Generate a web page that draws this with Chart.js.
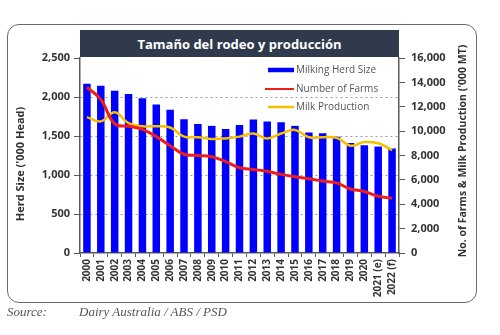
<!DOCTYPE html>
<html>
<head>
<meta charset="utf-8">
<script src="https://cdn.jsdelivr.net/npm/chart.js@4/dist/chart.umd.min.js"></script>
<style>
  html, body { margin: 0; padding: 0; background: #fff; }
  #wrap { position: relative; width: 500px; height: 335px; overflow: hidden; }
  #frame {
    position: absolute; left: 7px; top: 24px; width: 468px; height: 277px;
    border: 1.5px solid #6a6a6a; border-radius: 12px; box-sizing: content-box;
  }
  #title {
    position: absolute; left: 80px; top: 30px; width: 319px; height: 27px;
    background: #2f3b4c; color: #fff; font: 700 13px "Open Sans", sans-serif;
    display: flex; align-items: center; justify-content: center;
  }
  #source {
    position: absolute; left: 7px; top: 304px; font: italic 13px "Liberation Serif", serif;
    color: #555; white-space: pre;
  }
  #source span { position: absolute; left: 72px; top: 0; }
  canvas { position: absolute; left: 0; top: 0; }
</style>
</head>
<body>
<div id="wrap">
  <div id="frame"></div>
  <canvas id="c" width="500" height="335"></canvas>
  <div id="title">Tamaño del rodeo y producción</div>
  <div id="source">Source:<span>Dairy Australia / ABS / PSD</span></div>
</div>
<script>
// Australian dairy: milking herd, farm numbers and milk output by year
const years = ['2000','2001','2002','2003','2004','2005','2006','2007','2008','2009','2010',
  '2011','2012','2013','2014','2015','2016','2017','2018','2019','2020','2021 (e)','2022 (f)'];
const herdSize = [2170, 2145, 2080, 2040, 1985, 1905, 1835, 1715, 1655, 1630, 1590,
  1640, 1710, 1685, 1675, 1630, 1545, 1535, 1490, 1410, 1380, 1365, 1340];
const numFarms = [13600, 12600, 10600, 10400, 10150, 9550, 8800, 8100, 8000, 7900, 7500,
  7000, 6850, 6700, 6450, 6250, 6100, 5900, 5750, 5250, 5050, 4650, 4500];
const milkProd = [11150, 10800, 11550, 10650, 10400, 10400, 10300, 9550, 9500, 9350, 9400,
  9550, 9800, 9400, 9800, 10100, 9500, 9500, 9450, 8800, 9100, 9000, 8450];
const seriesNames = ['Milking Herd Size', 'Number of Farms', 'Milk Production'];
const leftTitle = "Herd Size ('000 Head)";
const rightTitle = "No. of Farms & Milk Production ('000 MT)";

const BLUE = '#0000ff', RED = '#ee1c1c', GOLD = '#f6c000';
const tickFont = { family: 'Open Sans', size: 11, weight: '700' };
const AXIS = '#5a5a5a';

// Legend inside the plot (top-right) and the two axis titles
const overlay = {
  id: 'overlay',
  afterDraw(chart) {
    const { ctx, chartArea: a } = chart;
    ctx.save();
    // legend
    const rows = [
      { label: chart.data.datasets[0].label, color: BLUE, w: 4.5, x0: 268 },
      { label: chart.data.datasets[1].label, color: RED, w: 2, x0: 265 },
      { label: chart.data.datasets[2].label, color: GOLD, w: 2.5, x0: 268 }
    ];
    const ys = [70, 89, 107];
    ctx.font = '10px "Open Sans", sans-serif';
    ctx.textBaseline = 'middle';
    ctx.textAlign = 'left';
    rows.forEach((r, i) => {
      ctx.strokeStyle = r.color;
      ctx.lineWidth = r.w;
      ctx.beginPath();
      ctx.moveTo(r.x0, ys[i]);
      ctx.lineTo(294, ys[i]);
      ctx.stroke();
      ctx.fillStyle = '#555';
      ctx.fillText(r.label, 296, ys[i] + 0.5);
    });
    // axis titles
    ctx.fillStyle = '#333';
    ctx.font = '700 11px "Open Sans", sans-serif';
    ctx.textAlign = 'center';
    ctx.save();
    ctx.translate(a.left - 59, 164);
    ctx.rotate(-Math.PI / 2);
    ctx.fillText(leftTitle, 0, 0);
    ctx.restore();
    ctx.font = '700 10.5px "Open Sans", sans-serif';
    ctx.save();
    ctx.translate(a.right + 64, 151);
    ctx.rotate(-Math.PI / 2);
    ctx.fillText(rightTitle, 0, 0);
    ctx.restore();
    ctx.restore();
  }
};

new Chart(document.getElementById('c'), {
  data: {
    labels: years,
    datasets: [
      { type: 'bar', label: seriesNames[0], data: herdSize, yAxisID: 'y',
        backgroundColor: BLUE, borderWidth: 0, categoryPercentage: 1, barPercentage: 0.54, order: 3 },
      { type: 'line', label: seriesNames[1], data: numFarms, yAxisID: 'y2',
        borderColor: RED, borderWidth: 3, pointRadius: 0, tension: 0.4, fill: false, order: 1 },
      { type: 'line', label: seriesNames[2], data: milkProd, yAxisID: 'y2',
        borderColor: GOLD, borderWidth: 2.5, pointRadius: 0, tension: 0.4, fill: false, order: 2 }
    ]
  },
  options: {
    responsive: false,
    animation: false,
    layout: { padding: { top: 58, bottom: 0, left: 0, right: 0 } },
    plugins: { legend: { display: false }, tooltip: { enabled: false } },
    scales: {
      x: {
        afterFit(s) { s.height = 82; },
        ticks: { color: '#333', font: { family: 'Open Sans', size: 10, weight: '700' },
          minRotation: 90, maxRotation: 90, autoSkip: false, padding: 2 },
        grid: { drawOnChartArea: false, tickLength: 4, color: AXIS },
        border: { color: AXIS, width: 1.5 }
      },
      y: {
        position: 'left', min: 0, max: 2500,
        afterFit(s) { s.width = 80; },
        ticks: { stepSize: 500, color: '#333', font: tickFont, padding: 4,
          callback: v => v.toLocaleString('en-US') },
        grid: {
          color: c => (c.tick && (c.tick.value === 0 || c.tick.value === 2500)) ? 'rgba(0,0,0,0)' : '#9a9a9a',
          tickColor: AXIS, tickLength: 6, tickBorderDash: [], lineWidth: 1
        },
        border: { color: AXIS, width: 1.5, dash: [2, 3] }
      },
      y2: {
        position: 'right', min: 0, max: 16000,
        afterFit(s) { s.width = 101; },
        ticks: { stepSize: 2000, color: '#333', font: tickFont, padding: 6,
          callback: v => v.toLocaleString('en-US') },
        grid: { drawOnChartArea: false, tickLength: 6, color: AXIS },
        border: { color: AXIS, width: 1.5 }
      }
    }
  },
  plugins: [overlay]
});
</script>
</body>
</html>
